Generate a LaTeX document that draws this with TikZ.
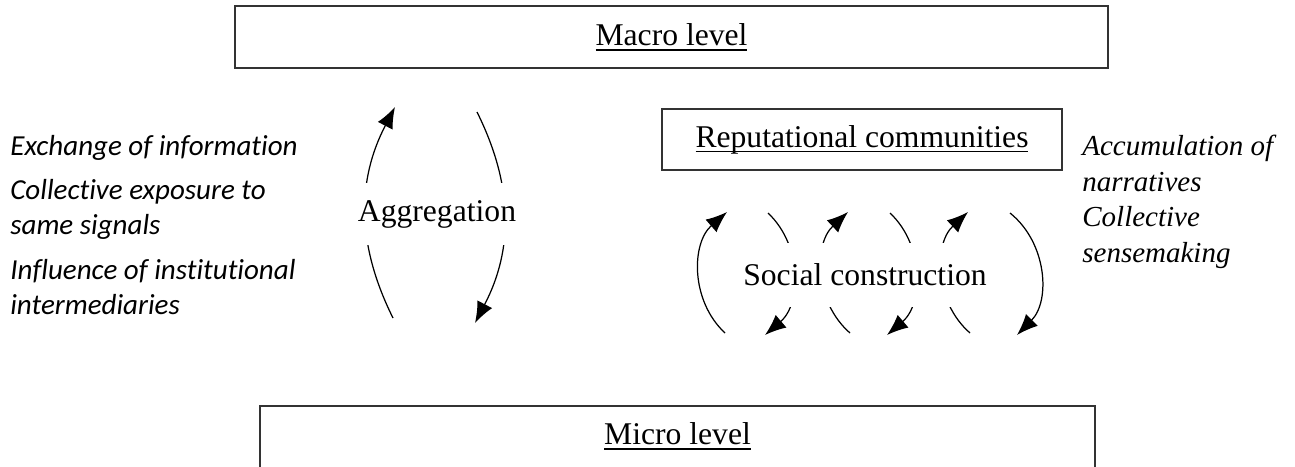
\documentclass[tikz,border=0pt]{standalone}
\usepackage{fontspec}
\setmainfont{Liberation Serif}
\newfontfamily\calfont[Ligatures=NoCommon]{Carlito}
\usetikzlibrary{arrows.meta, positioning}
\newcommand{\lined}[1]{{\setbox0=\hbox{#1}\rlap{\rule[-3pt]{\wd0}{1pt}}\box0}}

\begin{document}
\begin{tikzpicture}[
        >={Latex[length=12pt,width=9.5pt]},
        boxed/.style={draw=black!80, line width=1pt, inner sep=0pt},
        big/.style={font=\fontsize{18}{22}\selectfont},
        mask/.style={fill=white, inner xsep=1pt, inner ysep=0pt},
        sidenote/.style={anchor=west, align=left, inner sep=0pt}]
    \useasboundingbox (0, 0) rectangle (25.9, 9.32);

    \node[boxed, big, minimum width=17.46cm, minimum height=1.24cm] (macro) at (13.43, 8.58) {\lined{Macro level}};
    \node[boxed, big, minimum width=8cm, minimum height=1.22cm] (rep) at (17.24, 6.53) {\lined{Reputational communities}};
    \node[big] (micro) at (13.55, 0.6) {\lined{Micro level}};
    \draw[draw=black!80, line width=1pt] (5.2, -0.1) |- (21.9, 1.2) -- (21.9, -0.1);

    \node[sidenote, font=\calfont\itshape\fontsize{16.5}{19.9}\selectfont] (exch) at (0.2, 6.36) {Exchange of information};
    \node[sidenote, font=\calfont\itshape\fontsize{16.5}{19.9}\selectfont] (expo) at (0.2, 5.13) {Collective exposure to\\same signals};
    \node[sidenote, font=\calfont\itshape\fontsize{16.5}{19.9}\selectfont] (infl) at (0.2, 3.57) {Influence of institutional\\intermediaries};
    \node[sidenote, font=\itshape\fontsize{16.5}{20.5}\selectfont] (accu) at (21.64, 6.05) {Accumulation of\\narratives};
    \node[sidenote, font=\itshape\fontsize{16.5}{20.5}\selectfont] (sens) at (21.64, 4.57) {Collective\\sensemaking};

    % aggregation loop
    \coordinate (ag1) at (7.86, 2.96);
    \coordinate (ag2) at (7.90, 7.18);
    \coordinate (ag3) at (9.54, 7.08);
    \coordinate (ag4) at (9.50, 2.86);
    \draw[line width=0.7pt]
    (ag1) edge[->, bend left=27] (ag2)
    (ag3) edge[->, bend left=27] (ag4);
    \node[big, mask, minimum height=1.24cm] (aggr) at (8.74, 5.04) {Aggregation};

    % social construction loops
    \coordinate (sc1a) at (14.50, 2.66);
    \coordinate (sc1b) at (14.54, 5.08);
    \coordinate (sc2a) at (15.36, 5.06);
    \coordinate (sc2b) at (15.30, 2.62);
    \coordinate (sc3a) at (17.00, 2.66);
    \coordinate (sc3b) at (16.96, 5.08);
    \coordinate (sc4a) at (17.80, 5.06);
    \coordinate (sc4b) at (17.74, 2.62);
    \coordinate (sc5a) at (19.40, 2.66);
    \coordinate (sc5b) at (19.36, 5.08);
    \coordinate (sc6a) at (20.20, 5.06);
    \coordinate (sc6b) at (20.34, 2.62);
    \draw[line width=0.7pt]
    (sc1a) edge[->, bend left=48] (sc1b)
    (sc2a) edge[->, bend left=48] (sc2b)
    (sc3a) edge[->, bend left=48] (sc3b)
    (sc4a) edge[->, bend left=48] (sc4b)
    (sc5a) edge[->, bend left=48] (sc5b)
    (sc6a) edge[->, bend left=48] (sc6b);
    \node[big, mask, minimum height=1.28cm] (soc) at (17.30, 3.82) {Social construction};
\end{tikzpicture}
\end{document}
